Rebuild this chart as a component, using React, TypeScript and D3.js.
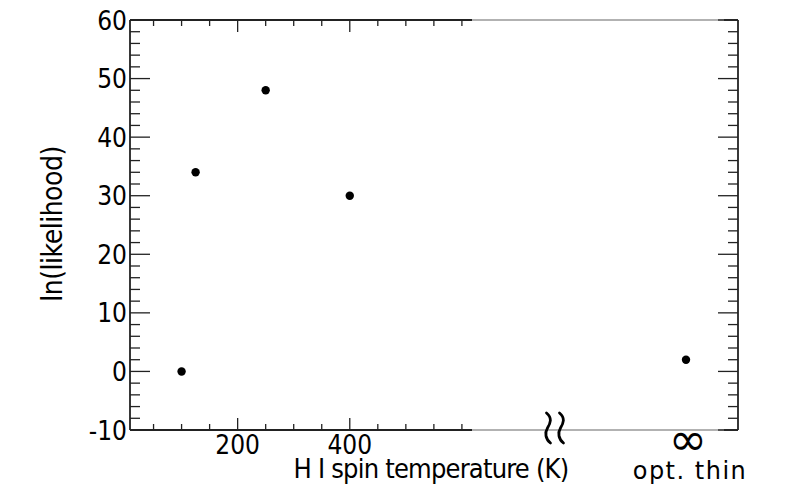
import React, { useEffect, useRef } from "react";
import { select, scaleLinear, scalePoint, range } from "d3";

// spin temperatures (K) and ln(likelihood) values
const spinTemps = [100, 125, 250, 400];
const lnLikelihood = [0, 34, 48, 30];
// optically thin case (T -> infinity)
const thinLabels = ["break", "inf"];
const thinValue = 2;

const yMajor = [-10, 0, 10, 20, 30, 40, 50, 60];
const yMinor = range(-10, 61, 2);
const xMajor = [200, 400];
const xMinor = [50, 100, 150, 250, 300, 350, 450, 500, 550, 600];

const W = 788;
const H = 492;
const left = 130;
const top = 20;
const bottom = 430;
const panelEnd = 472;
const right = 738;
const FONT = "'DejaVu Sans Condensed', 'DejaVu Sans', sans-serif";

export default function App() {
  const svgRef = useRef<SVGSVGElement>(null);

  useEffect(() => {
    const svg = select(svgRef.current!);
    svg.selectAll("*").remove();

    const x = scaleLinear().domain([8, 618]).range([left, panelEnd]);
    const xThin = scalePoint().domain(thinLabels).range([555, 688]);
    const y = scaleLinear().domain([-10, 60]).range([bottom, top]);

    const axisColor = "#222";
    const g = svg.append("g");

    // gray frame part for the broken axis region
    g.append("line").attr("x1", panelEnd).attr("x2", right).attr("y1", top).attr("y2", top)
      .attr("stroke", "#999").attr("stroke-width", 1.5);
    g.append("line").attr("x1", panelEnd).attr("x2", right).attr("y1", bottom).attr("y2", bottom)
      .attr("stroke", "#999").attr("stroke-width", 1.5);

    // dark frame pieces
    const dark = [
      [left, top, panelEnd, top],
      [left, bottom, panelEnd, bottom],
      [left, top, left, bottom],
      [right, top, right, bottom],
      [724, top, right, top],
      [724, bottom, right, bottom]
    ];
    g.selectAll(".frame")
      .data(dark)
      .join("line")
      .attr("x1", (d) => d[0]).attr("y1", (d) => d[1])
      .attr("x2", (d) => d[2]).attr("y2", (d) => d[3])
      .attr("stroke", axisColor).attr("stroke-width", 1.8);

    // y ticks, both sides
    const isMajor = (v: number) => v % 10 === 0;
    g.selectAll(".ytl")
      .data(yMinor)
      .join("line")
      .attr("x1", left).attr("x2", (d) => left + (isMajor(d) ? 20 : 10))
      .attr("y1", (d) => y(d)).attr("y2", (d) => y(d))
      .attr("stroke", axisColor).attr("stroke-width", 1.3);
    g.selectAll(".ytr")
      .data(yMinor)
      .join("line")
      .attr("x1", right).attr("x2", (d) => right - (isMajor(d) ? 20 : 10))
      .attr("y1", (d) => y(d)).attr("y2", (d) => y(d))
      .attr("stroke", axisColor).attr("stroke-width", 1.3);

    // x ticks top and bottom
    const xt = [...xMajor.map((v) => ({ v, big: true })), ...xMinor.map((v) => ({ v, big: false }))];
    g.selectAll(".xtb")
      .data(xt)
      .join("line")
      .attr("x1", (d) => x(d.v)).attr("x2", (d) => x(d.v))
      .attr("y1", bottom).attr("y2", (d) => bottom - (d.big ? 12 : 6))
      .attr("stroke", axisColor).attr("stroke-width", 1.3);
    g.selectAll(".xtt")
      .data(xt)
      .join("line")
      .attr("x1", (d) => x(d.v)).attr("x2", (d) => x(d.v))
      .attr("y1", top).attr("y2", (d) => top + (d.big ? 12 : 6))
      .attr("stroke", axisColor).attr("stroke-width", 1.3);

    // tick labels
    g.selectAll(".ylab")
      .data(yMajor)
      .join("text")
      .attr("x", left - 3)
      .attr("y", (d) => y(d) + 9.5)
      .attr("text-anchor", "end")
      .attr("font-family", FONT)
      .attr("font-size", 26)
      .attr("fill", "#000")
      .text((d) => String(d));
    g.selectAll(".xlab")
      .data(xMajor)
      .join("text")
      .attr("x", (d) => x(d))
      .attr("y", 454)
      .attr("text-anchor", "middle")
      .attr("font-family", FONT)
      .attr("font-size", 26)
      .attr("fill", "#000")
      .text((d) => String(d));

    // axis break symbol
    const bx = xThin("break")!;
    [-6.5, 6.5].forEach((dx) => {
      const cx = bx + dx;
      g.append("path")
        .attr("d", `M${cx - 2},${413} C${cx + 4},${418} ${cx + 2},${423} ${cx - 1},${428} C${cx - 4},${433} ${cx - 3},${439} ${cx + 2},${443}`)
        .attr("fill", "none").attr("stroke", "#000").attr("stroke-width", 2.8)
        .attr("stroke-linecap", "round");
    });

    // infinity label
    g.append("text")
      .attr("x", xThin("inf")!)
      .attr("y", 455)
      .attr("text-anchor", "middle")
      .attr("font-family", "'DejaVu Sans', sans-serif")
      .attr("font-size", 46)
      .attr("fill", "#000")
      .text("\u221e");
    g.append("text")
      .attr("x", xThin("inf")! + 2)
      .attr("y", 479)
      .attr("text-anchor", "middle")
      .attr("font-family", "'DejaVu Sans', sans-serif")
      .attr("font-size", 24)
      .attr("letter-spacing", 1.5)
      .attr("fill", "#000")
      .text("opt. thin");

    // axis titles
    g.append("text")
      .attr("x", 431)
      .attr("y", 478)
      .attr("text-anchor", "middle")
      .attr("font-family", FONT)
      .attr("font-size", 27)
      .attr("letter-spacing", -0.8)
      .attr("fill", "#000")
      .text("H I spin temperature (K)");
    g.append("text")
      .attr("transform", `translate(62, 224) rotate(-90)`)
      .attr("text-anchor", "middle")
      .attr("font-family", FONT)
      .attr("font-size", 28)
      .attr("letter-spacing", -0.5)
      .attr("fill", "#000")
      .text("ln(likelihood)");

    // points
    g.selectAll(".pt")
      .data(spinTemps)
      .join("circle")
      .attr("cx", (d) => x(d))
      .attr("cy", (_d, i) => y(lnLikelihood[i]))
      .attr("r", 4.2)
      .attr("fill", "#000");
    g.append("circle")
      .attr("cx", xThin("inf")! - 2)
      .attr("cy", y(thinValue))
      .attr("r", 4.2)
      .attr("fill", "#000");
  }, []);

  return (
    <svg
      ref={svgRef}
      width={W}
      height={H}
      style={{ position: "absolute", left: 0, top: 0, background: "#fff" }}
    />
  );
}
